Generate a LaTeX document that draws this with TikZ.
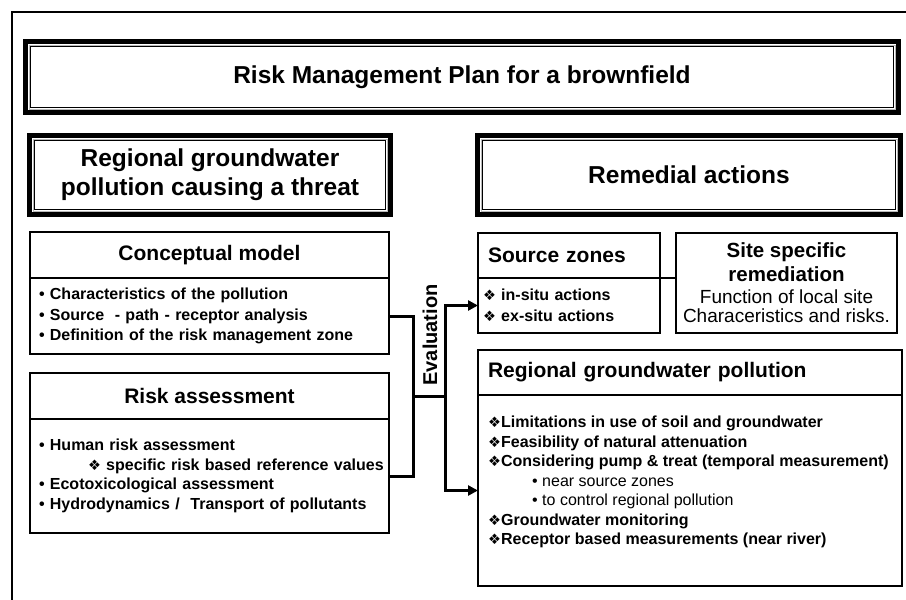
\documentclass[tikz,border=0pt]{standalone}
\usepackage{fontspec}
\setmainfont{Liberation Sans}
\newfontfamily\dejavu{DejaVu Sans}
\usetikzlibrary{arrows.meta,positioning}
\newcommand{\dmd}{{\dejavu\scalebox{0.9}{❖}}}

\begin{document}
\begin{tikzpicture}[x=1pt,y=-1pt,
  frame/.style={draw,line width=5pt,align=center,outer sep=0pt,inner sep=0pt,
    font=\bfseries\fontsize{24.5}{29}\selectfont,
    path picture={
      \draw[gray!55,line width=1pt] ([shift={(3.5pt,3.5pt)}]path picture bounding box.south west) rectangle ([shift={(-3.5pt,-3.5pt)}]path picture bounding box.north east);
      \draw[line width=1.2pt] ([shift={(5.3pt,5.3pt)}]path picture bounding box.south west) rectangle ([shift={(-5.3pt,-5.3pt)}]path picture bounding box.north east);}},
  box/.style={draw,line width=1.2pt,outer sep=0pt,inner ysep=0pt,inner xsep=9pt},
  head/.style={box,minimum height=46pt,font=\bfseries\fontsize{21}{25}\selectfont},
  body/.style={box,align=left,font=\bfseries\fontsize{16}{20.5}\selectfont},
  conn/.style={line width=3pt},
  arr/.style={conn,-{Triangle[length=10pt,width=10pt]}}
]
\useasboundingbox (0,0) rectangle (906,600);
\clip (0,0) rectangle (906,600);
\draw[line width=2.5pt] (12,12) rectangle (930,630);

% headings
\node[frame,minimum width=873pt,minimum height=71pt] (plan) at (462,77) {Risk Management Plan for a brownfield};
\node[frame,minimum width=361pt,minimum height=79pt] (threat) at (210,175) {Regional groundwater\\pollution causing a threat};
\node[frame,minimum width=423pt,minimum height=79pt] (remedial) at (689,175) {Remedial actions};

% left column
\node[head,minimum width=359pt] (cmhead) at (209.5,255) {Conceptual model};
\node[body,below=0pt of cmhead,text width=341pt,minimum height=76pt] (cmbody) {•~Characteristics of the pollution\\•~Source~ - path - receptor analysis\\•~Definition of the risk management zone};
\node[head,minimum width=359pt] (rahead) at (209.5,396) {Risk assessment};
\node[body,below=0pt of rahead,text width=347pt,inner xsep=6pt,minimum height=114pt,font=\bfseries\fontsize{16}{19.5}\selectfont] (rabody) {\hspace*{3pt}•~Human risk assessment\\\mbox{\hspace*{52pt}\dmd~specific risk based reference values}\\\hspace*{3pt}•~Ecotoxicological assessment\\\hspace*{3pt}•~Hydrodynamics /~ Transport of pollutants};

% right column
\node[head,minimum width=182pt,minimum height=45pt,text width=162pt,inner xsep=10pt,align=left] (szhead) at (569,255.5) {Source zones};
\node[body,below=0pt of szhead,text width=172pt,inner xsep=5pt,minimum height=55pt,font=\bfseries\fontsize{16}{21}\selectfont] (szbody) {\dmd\ in-situ actions\\\dmd\ ex-situ actions};
\node[box,minimum width=221pt,minimum height=100pt,inner xsep=2pt,align=center,font=\fontsize{19}{19}\selectfont] (site) at (786.5,283) {{\bfseries\fontsize{20.5}{20}\selectfont Site specific}\\[4pt]{\bfseries\fontsize{20.5}{20}\selectfont remediation}\\[3pt]Function of local site\\Characeristics and risks.};
\node[head,minimum width=424pt,minimum height=45pt,text width=404pt,inner xsep=10pt,align=left] (rghead) at (690,372.5) {Regional groundwater pollution};
\node[box,below=0pt of rghead,minimum width=424pt,minimum height=191pt] (rgbody) {};
\node[below right=21pt and 10pt of rgbody.north west,inner sep=0pt,align=left,font=\bfseries\fontsize{16}{19.5}\selectfont] (rgitems) {\dmd Limitations in use of soil and groundwater\\\dmd Feasibility of natural attenuation\\\dmd Considering pump \& treat (temporal measurement)\\{\mdseries\hspace*{44pt}•~near source zones}\\{\mdseries\hspace*{44pt}•~to control regional pollution}\\\dmd Groundwater monitoring\\\dmd Receptor based measurements (near river)};

% evaluation
\node[rotate=90,font=\bfseries\fontsize{20}{24}\selectfont] (evallbl) at (430,335) {Evaluation};
\coordinate (evalL) at (413,396);
\coordinate (evalR) at (445,396);
\draw[conn] (cmbody.east) -| (evalL) |- (rabody.east);
\draw[conn] (evalL) -- (evalR);
\draw[arr] (evalR) |- (szbody.west);
\draw[arr] (evalR) |- (rgbody.west);
\draw[line width=2pt] (szhead.south east) -- (szhead.south east -| site.west);
\end{tikzpicture}
\end{document}
